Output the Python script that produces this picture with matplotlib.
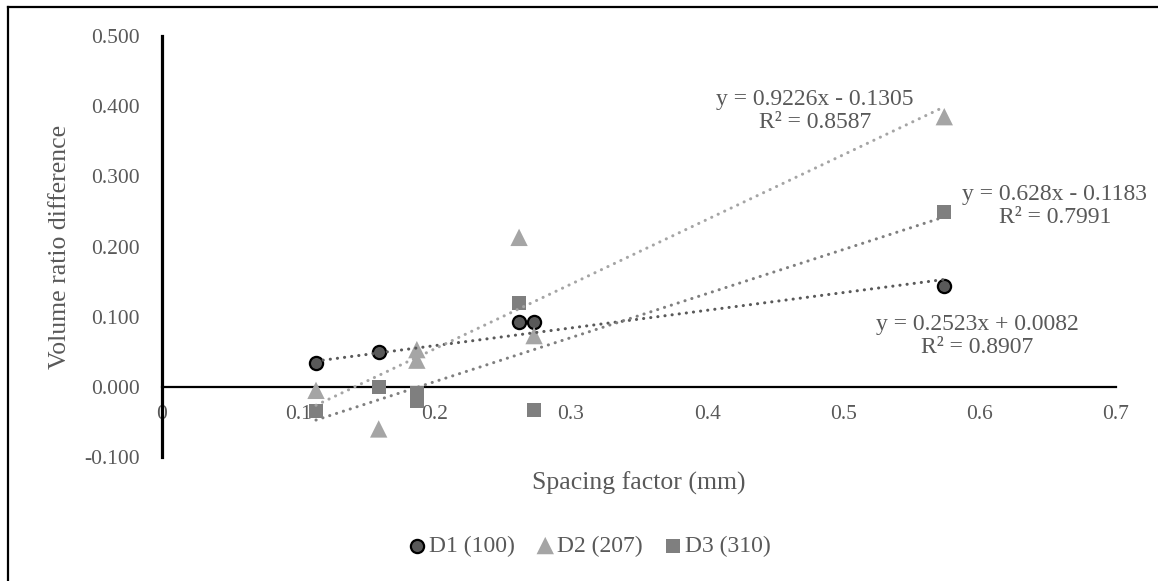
import matplotlib
matplotlib.use("Agg")
import matplotlib.pyplot as plt
from matplotlib.lines import Line2D
import numpy as np

plt.rcParams["font.family"] = ["Liberation Serif", "DejaVu Serif"]

TXT = "#595959"

# data
d1_x = [0.113, 0.159, 0.262, 0.273, 0.574]
d1_y = [0.034, 0.049, 0.093, 0.093, 0.144]
d2_x = [0.113, 0.159, 0.187, 0.187, 0.262, 0.273, 0.574]
d2_y = [-0.005, -0.060, 0.053, 0.038, 0.213, 0.073, 0.385]
d3_x = [0.113, 0.159, 0.187, 0.187, 0.262, 0.273, 0.574]
d3_y = [-0.034, 0.000, -0.008, -0.020, 0.120, -0.033, 0.249]

labels = ["D1 (100)", "D2 (207)", "D3 (310)"]
slopes = [0.2523, 0.9226, 0.628]
intercepts = [0.0082, -0.1305, -0.1183]
r2 = [0.8907, 0.8587, 0.7991]
eq_txt = ["y = 0.2523x + 0.0082", "y = 0.9226x - 0.1305", "y = 0.628x - 0.1183"]

x_ticks = [0, 0.1, 0.2, 0.3, 0.4, 0.5, 0.6, 0.7]
y_ticks = [-0.1, 0.0, 0.1, 0.2, 0.3, 0.4, 0.5]

W, H = 1158, 581
fig = plt.figure(figsize=(W / 100, H / 100), dpi=100)
ax = fig.add_axes([162 / W, 1 - 457 / H, (1116 - 162) / W, (457 - 36) / H])

series = [
    (d1_x, d1_y, "o", "#595959", "black", 9.5, TXT),
    (d2_x, d2_y, "^", "#a5a5a5", "none", 12.5, "#a5a5a5"),
    (d3_x, d3_y, "s", "#7f7f7f", "none", 10, "#7f7f7f"),
]

for i, (xs, ys, mk, fc, ec, ms, lc) in enumerate(series):
    ax.scatter(xs, ys, marker=mk, s=ms ** 2, facecolor=fc, edgecolor=ec,
               linewidth=1.6 if ec != "none" else 0, zorder=3, label=labels[i])
    # linear trendline, coefficients as printed on the chart
    xx = np.array([min(xs), max(xs)])
    ax.plot(xx, slopes[i] * xx + intercepts[i], color=lc, linestyle=(0, (0.05, 2.3)),
            linewidth=2.2, dash_capstyle="round", zorder=4)

ax.set_xlim(0, 0.7)
ax.set_ylim(-0.1, 0.5)
ax.set_xticks(x_ticks)
ax.set_xticklabels(["0" if v == 0 else f"{v:.1f}" for v in x_ticks])
ax.set_yticks(y_ticks)
ax.set_yticklabels([f"{v:.3f}" for v in y_ticks])
ax.tick_params(axis="both", length=0, labelsize=15.5, labelcolor=TXT)
ax.tick_params(axis="y", pad=16)
ax.tick_params(axis="x", pad=13)

for s in ["top", "right"]:
    ax.spines[s].set_visible(False)
ax.spines["bottom"].set_position(("data", 0))
ax.spines["bottom"].set_linewidth(1.6)
ax.spines["left"].set_linewidth(2.3)
ax.patch.set_alpha(0)

# axis titles
fig.text(639 / W, 1 - 483 / H, "Spacing factor (mm)", ha="center", va="center",
         fontsize=18.5, color=TXT)
fig.text(60 / W, 1 - 247 / H, "Volume ratio difference", ha="center", va="center",
         rotation=90, fontsize=18.5, color=TXT)

# trendline equations
eq_pos = [(977, 336), (815, 111), (1055, 206)]
for i, (px, py) in enumerate(eq_pos):
    fig.text(px / W, 1 - py / H, f"{eq_txt[i]}\nR² = {r2[i]}", ha="center", va="center",
             fontsize=17, color=TXT, linespacing=1.15, multialignment="center")

fig.legend(loc="center", bbox_to_anchor=(588 / W, 1 - 546 / H), ncol=3, frameon=False,
           fontsize=17, labelcolor=TXT, handletextpad=0.0, columnspacing=0.8,
           borderaxespad=0, handlelength=1.0)

# chart border (left and top edges)
fig.add_artist(Line2D([8 / W, 8 / W], [0, 1 - 7 / H], color="black", linewidth=1.6))
fig.add_artist(Line2D([8 / W, 1], [1 - 7 / H, 1 - 7 / H], color="black", linewidth=1.6))

fig.savefig("out.png", dpi=100)
